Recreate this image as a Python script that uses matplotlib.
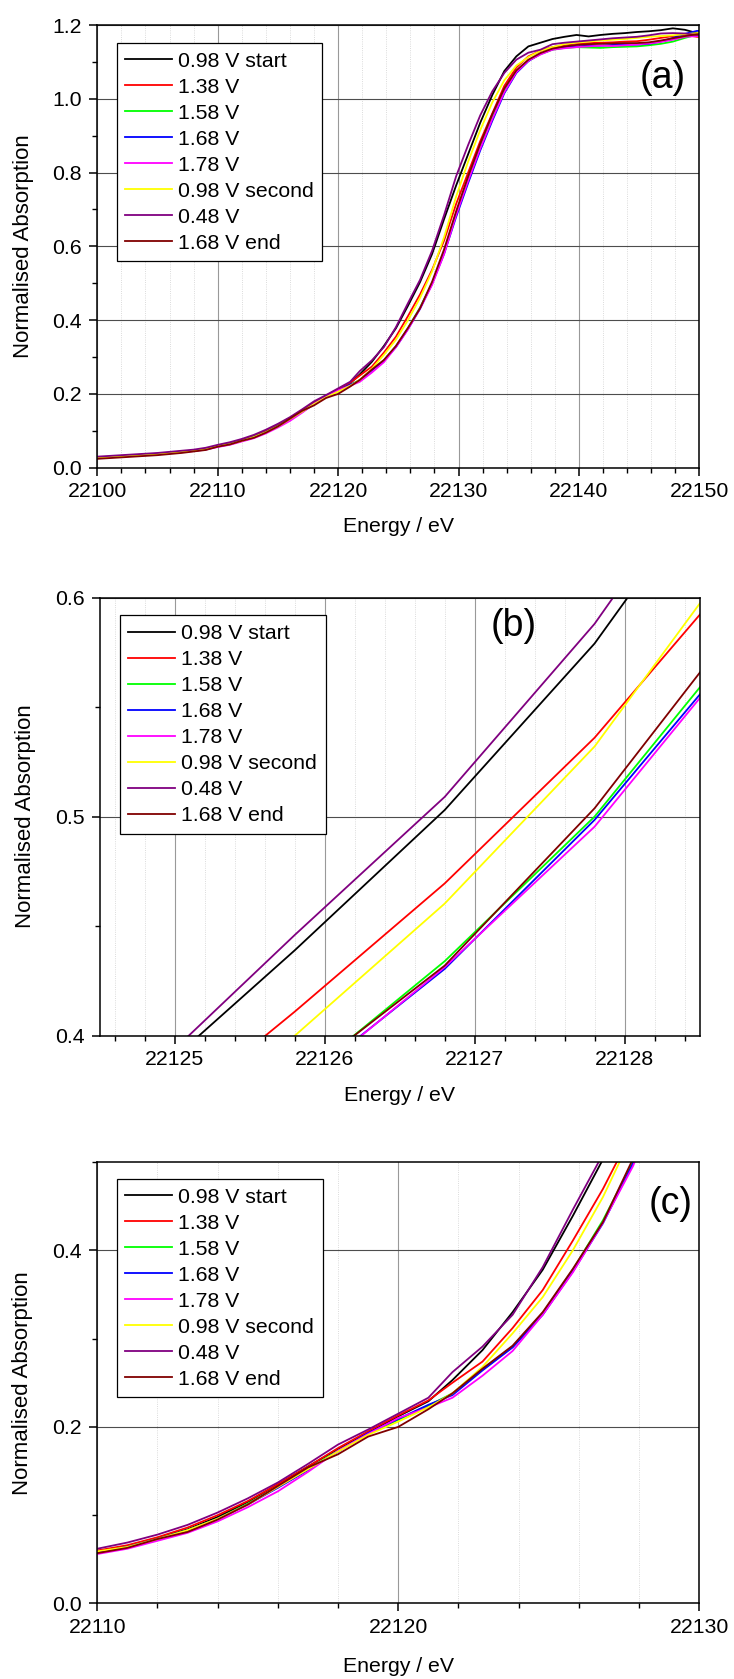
import matplotlib
matplotlib.use("Agg")
import matplotlib.pyplot as plt
from matplotlib.ticker import MultipleLocator, FormatStrFormatter

plt.rcParams['font.family'] = ['Liberation Sans', 'DejaVu Sans']

# Energy grid (eV): 1 eV steps through the pre-edge, then the edge/post-edge scan points
energy = [22100, 22101, 22102, 22103, 22104, 22105, 22106, 22107, 22108, 22109,
          22110, 22111, 22112, 22113, 22114, 22115, 22116, 22117, 22118, 22119,
          22120, 22121,
          22121.8, 22122.8, 22123.8, 22124.8, 22125.8, 22126.8, 22127.8, 22128.8,
          22129.8, 22130.8, 22131.8, 22132.8, 22133.8, 22134.8, 22135.8, 22136.8,
          22137.8, 22138.8, 22139.8, 22140.8, 22141.8, 22142.8, 22143.8, 22144.8,
          22145.8, 22146.8, 22147.8, 22148.8, 22149.8, 22150.8]

mu_098_start = [0.027, 0.029, 0.031, 0.033, 0.035, 0.037, 0.040, 0.043, 0.046, 0.050,
                0.059, 0.065, 0.074, 0.084, 0.098, 0.115, 0.135, 0.155, 0.175, 0.193,
                0.212, 0.229,
                0.253, 0.287, 0.330, 0.378, 0.439, 0.503, 0.579, 0.674,
                0.765, 0.850, 0.935, 1.010, 1.075, 1.115, 1.142, 1.152,
                1.162, 1.168, 1.173, 1.169, 1.173, 1.176, 1.178, 1.181,
                1.183, 1.186, 1.191, 1.187, 1.178, 1.176]

mu_138 = [0.028, 0.030, 0.032, 0.034, 0.036, 0.038, 0.041, 0.044, 0.047, 0.051,
          0.060, 0.066, 0.075, 0.086, 0.100, 0.116, 0.135, 0.155, 0.176, 0.195,
          0.213, 0.230,
          0.250, 0.274, 0.312, 0.355, 0.411, 0.4695, 0.536, 0.616,
          0.715, 0.800, 0.885, 0.960, 1.035, 1.085, 1.115, 1.130,
          1.140, 1.146, 1.150, 1.151, 1.152, 1.153, 1.155, 1.156,
          1.160, 1.165, 1.170, 1.173, 1.168, 1.167]

mu_158 = [0.027, 0.029, 0.031, 0.033, 0.035, 0.037, 0.040, 0.043, 0.046, 0.050,
          0.058, 0.064, 0.073, 0.083, 0.096, 0.113, 0.132, 0.152, 0.173, 0.192,
          0.208, 0.224,
          0.238, 0.265, 0.291, 0.329, 0.378, 0.434, 0.500, 0.584,
          0.690, 0.785, 0.872, 0.952, 1.022, 1.073, 1.103, 1.121,
          1.133, 1.138, 1.140, 1.139, 1.138, 1.140, 1.141, 1.142,
          1.145, 1.149, 1.155, 1.165, 1.174, 1.178]

mu_168 = [0.027, 0.029, 0.031, 0.033, 0.035, 0.037, 0.040, 0.043, 0.046, 0.050,
          0.058, 0.064, 0.073, 0.083, 0.096, 0.112, 0.131, 0.151, 0.172, 0.193,
          0.209, 0.225,
          0.236, 0.264, 0.290, 0.327, 0.376, 0.4305, 0.4985, 0.580,
          0.680, 0.772, 0.860, 0.940, 1.015, 1.070, 1.102, 1.122,
          1.134, 1.140, 1.142, 1.144, 1.144, 1.146, 1.146, 1.147,
          1.149, 1.155, 1.165, 1.176, 1.184, 1.183]

mu_178 = [0.026, 0.028, 0.030, 0.032, 0.034, 0.036, 0.039, 0.042, 0.045, 0.049,
          0.056, 0.062, 0.071, 0.080, 0.093, 0.109, 0.127, 0.149, 0.173, 0.192,
          0.210, 0.222,
          0.233, 0.258, 0.286, 0.327, 0.375, 0.4313, 0.4954, 0.579,
          0.685, 0.778, 0.865, 0.945, 1.018, 1.072, 1.103, 1.120,
          1.133, 1.137, 1.140, 1.142, 1.144, 1.143, 1.145, 1.147,
          1.150, 1.154, 1.160, 1.168, 1.170, 1.170]

mu_098_second = [0.027, 0.029, 0.031, 0.033, 0.035, 0.037, 0.040, 0.043, 0.046, 0.050,
                 0.059, 0.064, 0.073, 0.083, 0.096, 0.112, 0.132, 0.152, 0.172, 0.191,
                 0.206, 0.222,
                 0.238, 0.268, 0.306, 0.347, 0.400, 0.4603, 0.532, 0.625,
                 0.735, 0.830, 0.915, 0.990, 1.050, 1.090, 1.113, 1.130,
                 1.140, 1.148, 1.152, 1.155, 1.158, 1.160, 1.162, 1.165,
                 1.168, 1.170, 1.172, 1.175, 1.178, 1.179]

mu_048 = [0.030, 0.032, 0.034, 0.036, 0.038, 0.040, 0.043, 0.046, 0.049, 0.054,
          0.062, 0.069, 0.078, 0.089, 0.103, 0.119, 0.137, 0.158, 0.180, 0.197,
          0.215, 0.233,
          0.262, 0.291, 0.327, 0.381, 0.446, 0.509, 0.588, 0.685,
          0.790, 0.875, 0.955, 1.020, 1.070, 1.106, 1.125, 1.133,
          1.148, 1.152, 1.155, 1.158, 1.161, 1.164, 1.166, 1.168,
          1.172, 1.177, 1.178, 1.177, 1.173, 1.172]

mu_168_end = [0.024, 0.026, 0.028, 0.030, 0.032, 0.034, 0.037, 0.040, 0.044, 0.048,
              0.057, 0.063, 0.073, 0.081, 0.095, 0.112, 0.133, 0.154, 0.169, 0.189,
              0.200, 0.220,
              0.238, 0.266, 0.292, 0.330, 0.379, 0.432, 0.5038, 0.592,
              0.695, 0.790, 0.878, 0.958, 1.028, 1.077, 1.106, 1.124,
              1.136, 1.142, 1.146, 1.148, 1.149, 1.150, 1.151, 1.151,
              1.153, 1.158, 1.164, 1.170, 1.175, 1.176]

series_labels = ['0.98 V start', '1.38 V', '1.58 V', '1.68 V', '1.78 V',
                 '0.98 V second', '0.48 V', '1.68 V end']
series_values = [mu_098_start, mu_138, mu_158, mu_168, mu_178,
                 mu_098_second, mu_048, mu_168_end]
series_colors = ['#000000', '#ff0000', '#00ff00', '#0000ff', '#ff00ff',
                 '#ffff00', '#800080', '#800000']

W, H = 734, 1679
fig = plt.figure(figsize=(W / 100, H / 100), dpi=100)

FS = 15.3


def panel(rect, xlim, ylim, xmaj, xmin, ymaj, ymin, tag, tag_xy, leg_xy,
          ylab_x, xlab_y):
    ax = fig.add_axes(rect)
    for vals, lab, col in zip(series_values, series_labels, series_colors):
        ax.plot(energy, vals, color=col, lw=1.3, label=lab)
    ax.set_xlim(*xlim)
    ax.set_ylim(*ylim)
    ax.xaxis.set_major_locator(MultipleLocator(xmaj))
    ax.xaxis.set_minor_locator(MultipleLocator(xmin))
    ax.yaxis.set_major_locator(MultipleLocator(ymaj))
    ax.yaxis.set_minor_locator(MultipleLocator(ymin))
    ax.yaxis.set_major_formatter(FormatStrFormatter('%.1f'))
    ax.xaxis.set_major_formatter(FormatStrFormatter('%d'))

    ax.set_axisbelow(True)
    ax.grid(which='major', axis='x', color='#999999', lw=0.8)
    ax.grid(which='major', axis='y', color='#4d4d4d', lw=0.8)
    ax.grid(which='minor', axis='x', color='#cfcfcf', lw=0.6, ls=':')

    ax.tick_params(which='major', direction='out', length=6.1, width=1.1,
                   labelsize=FS, top=False, right=False)
    ax.tick_params(which='minor', direction='out', length=3.6, width=1.0,
                   top=False, right=False)
    ax.tick_params(axis='x', which='major', pad=4.3)
    ax.tick_params(axis='y', which='major', pad=5.0)
    for sp in ax.spines.values():
        sp.set_linewidth(1.1)

    ax.set_xlabel('Energy / eV', fontsize=FS, va='center')
    ax.set_ylabel('Normalised Absorption', fontsize=16, va='center')
    ax.xaxis.set_label_coords(0.5, xlab_y)
    ax.yaxis.set_label_coords(ylab_x, 0.5)

    ax.text(tag_xy[0], tag_xy[1], tag, transform=ax.transAxes, fontsize=27,
            ha='center', va='center')

    leg = ax.legend(loc='upper left', bbox_to_anchor=leg_xy, borderaxespad=0,
                    fontsize=FS, frameon=True, fancybox=False, framealpha=1,
                    edgecolor='black', handlelength=2.2, handletextpad=0.3,
                    labelspacing=0.33, borderpad=0.4)
    leg.get_frame().set_linewidth(0.9)
    for line in leg.get_lines():
        line.set_linewidth(1.3)
    return ax


panel([0.1326, 0.72144, 0.8202, 0.26367], (22100, 22150), (0.0, 1.2),
      10, 2, 0.2, 0.1, '(a)', (0.939, 0.881), (0.032, 0.9587), -0.1226, -0.1335)

panel([0.1362, 0.38315, 0.8168, 0.26098], (22124.5, 22128.5), (0.4, 0.6),
      1, 0.2, 0.1, 0.05, '(b)', (0.69, 0.935), (0.033, 0.959), -0.1238, -0.137)

panel([0.1324, 0.04497, 0.8203, 0.26295], (22110, 22130), (0.0, 0.5),
      10, 2, 0.2, 0.1, '(c)', (0.952, 0.905), (0.0326, 0.961), -0.124, -0.1416)

fig.savefig('out.png', dpi=100)
